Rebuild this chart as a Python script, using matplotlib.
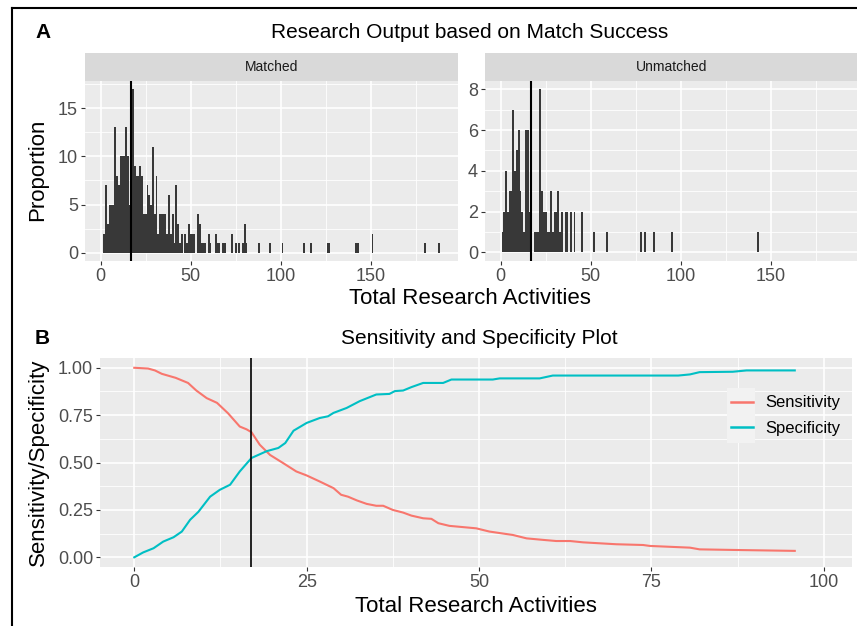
import matplotlib
matplotlib.use("Agg")
import matplotlib.pyplot as plt
from matplotlib.lines import Line2D
from matplotlib.patches import Rectangle
from matplotlib.ticker import FixedLocator

plt.rcParams['font.family'] = ['Liberation Sans', 'DejaVu Sans']

# histogram counts per total research activities
matched_x = [2, 3, 4, 5, 6, 7, 8, 9, 10, 11, 12, 13, 14, 15, 16, 17, 18, 19, 20,
             21, 22, 23, 24, 25, 26, 27, 28, 29, 30, 31, 32, 33, 34, 35, 36, 37,
             38, 39, 40, 41, 42, 43, 44, 45, 47, 48, 49, 50, 51, 52, 54, 55, 56,
             57, 58, 60, 61, 64, 65, 66, 68, 69, 73, 75, 77, 79, 80, 81, 88, 94,
             101, 113, 117, 126, 127, 142, 143, 151, 180, 188]
matched_n = [2, 7, 3, 5, 5, 5, 13, 8, 7, 10, 10, 10, 13, 10, 5, 11, 17, 9, 8,
             8, 9, 8, 4, 4, 7, 6, 5, 11, 4, 8, 2, 4, 4, 4, 4, 2,
             6, 2, 4, 1, 7, 3, 1, 2, 2, 1, 3, 2, 2, 2, 4, 3, 1,
             1, 1, 2, 1, 2, 1, 1, 1, 1, 2, 1, 1, 1, 3, 1, 1, 1,
             1, 1, 1, 1, 1, 1, 1, 2, 1, 1]
unmatched_x = [1, 2, 3, 4, 5, 6, 7, 8, 9, 10, 11, 12, 13, 14, 15, 16, 17, 19, 20,
               21, 22, 23, 24, 25, 26, 27, 28, 29, 30, 31, 32, 33, 34, 36, 37, 39,
               41, 45, 52, 59, 78, 80, 85, 95, 143]
unmatched_n = [1, 2, 4, 2, 3, 3, 7, 4, 5, 6, 3, 2, 1, 6, 6, 2, 2, 1, 1,
               1, 8, 3, 2, 2, 1, 1, 3, 1, 2, 2, 3, 1, 2, 2, 2, 2,
               2, 2, 1, 1, 1, 1, 1, 1, 1]
cutoff = 17

# sensitivity / specificity curves
sens_x = [0, 2, 3, 4, 6, 7.8, 9, 10.5, 12, 13.6, 15.3, 16.3, 17, 18.2, 19.7, 21.6,
          23.5, 25, 26.9, 28.9, 30, 31, 32.3, 33.7, 35.1, 36.1, 37.5, 39, 40.2,
          41.9, 43.1, 44.1, 45.7, 49.6, 51.5, 54.9, 56.9, 59.3, 61.2, 63.2, 65.1,
          69.9, 73.8, 74.8, 80.6, 82, 86.8, 95.8]
sens_y = [1.0, 0.996, 0.986, 0.968, 0.947, 0.92, 0.88, 0.84, 0.815, 0.76, 0.69,
          0.675, 0.66, 0.594, 0.54, 0.497, 0.453, 0.432, 0.40, 0.365, 0.33, 0.32,
          0.30, 0.282, 0.272, 0.272, 0.25, 0.236, 0.22, 0.206, 0.203, 0.18, 0.166,
          0.153, 0.136, 0.118, 0.10, 0.092, 0.086, 0.086, 0.079, 0.069, 0.065,
          0.06, 0.051, 0.042, 0.039, 0.034]
spec_x = [0, 1.3, 2.8, 4.2, 5.7, 6.9, 8.1, 9.3, 11, 12.4, 13.9, 15.3, 17, 19.2,
          20.9, 21.9, 23.1, 25, 26.9, 28.1, 28.9, 30.8, 32.7, 35.1, 37, 37.8, 39,
          40.2, 41.9, 44.8, 46, 52, 53, 58.8, 60.7, 78.9, 80.6, 82, 86.8, 88.8, 95.8]
spec_y = [0.0, 0.026, 0.048, 0.083, 0.106, 0.136, 0.198, 0.24, 0.32, 0.356, 0.383,
          0.453, 0.524, 0.56, 0.577, 0.603, 0.668, 0.709, 0.735, 0.744, 0.762,
          0.788, 0.824, 0.859, 0.862, 0.877, 0.88, 0.898, 0.92, 0.92, 0.938,
          0.938, 0.944, 0.944, 0.959, 0.959, 0.965, 0.977, 0.979, 0.986, 0.986]

W, H = 857, 626
PANEL = '#EBEBEB'
STRIP = '#D9D9D9'
BAR = '#383838'
RED = '#F8766D'
CYAN = '#00BFC4'


def fx(px):
    return px / W


def fy(py):
    return 1 - py / H


def gg_style(ax, major_x, major_y, minor_x, minor_y):
    ax.set_facecolor(PANEL)
    for s in ax.spines.values():
        s.set_visible(False)
    ax.xaxis.set_major_locator(FixedLocator(major_x))
    ax.yaxis.set_major_locator(FixedLocator(major_y))
    ax.xaxis.set_minor_locator(FixedLocator(minor_x))
    ax.yaxis.set_minor_locator(FixedLocator(minor_y))
    ax.grid(which='major', color='white', lw=1.2)
    ax.grid(which='minor', color='white', lw=0.6)
    ax.set_axisbelow(True)
    ax.tick_params(which='major', length=3, width=0.8, color='#333333',
                   labelcolor='#4D4D4D', labelsize=13, pad=2)
    ax.tick_params(which='minor', length=0)


fig = plt.figure(figsize=(W / 100, H / 100), dpi=100)

# panel A: histograms
ax1 = fig.add_axes([fx(85), fy(261), fx(373), 180.3 / H])
ax2 = fig.add_axes([fx(485), fy(261), fx(373), 180.3 / H])
for ax, xs, ns, yl, yt, ym in [
        (ax1, matched_x, matched_n, (-0.85, 17.85), [0, 5, 10, 15], [2.5, 7.5, 12.5, 17.5]),
        (ax2, unmatched_x, unmatched_n, (-0.42, 8.42), [0, 2, 4, 6, 8], [1, 3, 5, 7])]:
    ax.bar(xs, ns, width=0.95, color=BAR, linewidth=0)
    ax.axvline(cutoff, color='black', lw=1.5)
    ax.set_xlim(-8.7, 198.5)
    ax.set_ylim(*yl)
    gg_style(ax, [0, 50, 100, 150], yt, [25, 75, 125, 175], ym)

for ax, label in [(ax1, 'Matched'), (ax2, 'Unmatched')]:
    pos = ax.get_position()
    sax = fig.add_axes([pos.x0, fy(80.7), pos.width, 27.4 / H])
    sax.set_facecolor(STRIP)
    sax.set_xticks([])
    sax.set_yticks([])
    for s in sax.spines.values():
        s.set_visible(False)
    sax.text(0.5, 0.5, label, ha='center', va='center', fontsize=10,
             color='#1A1A1A', transform=sax.transAxes)

fig.text(fx(35), fy(33), 'A', fontsize=15, fontweight='bold', ha='left', va='center')
fig.text(fx(470), fy(33), 'Research Output based on Match Success', fontsize=15,
         ha='center', va='center')
fig.text(fx(470), fy(299), 'Total Research Activities', fontsize=16,
         ha='center', va='center')
fig.text(fx(38), fy(170), 'Proportion', fontsize=16, rotation=90,
         ha='center', va='center')

# panel B: sensitivity / specificity
ax3 = fig.add_axes([fx(100), fy(566.8), fx(752), 208.5 / H])
ax3.plot(sens_x, sens_y, color=RED, lw=1.5, label='Sensitivity')
ax3.plot(spec_x, spec_y, color=CYAN, lw=1.5, label='Specificity')
ax3.axvline(cutoff, color='black', lw=1.2)
ax3.set_xlim(-4.97, 104.1)
ax3.set_ylim(-0.05, 1.05)
gg_style(ax3, [0, 25, 50, 75, 100], [0, 0.25, 0.5, 0.75, 1.0],
         [12.5, 37.5, 62.5, 87.5], [0.125, 0.375, 0.625, 0.875])
ax3.set_yticklabels(['0.00', '0.25', '0.50', '0.75', '1.00'])

# grey95 legend key boxes, as ggplot draws them
for top in (388, 415.5):
    ax3.add_patch(Rectangle((fx(727), fy(top + 27.5)), fx(28), 27.5 / H,
                            transform=fig.transFigure, facecolor='#F2F2F2',
                            edgecolor='none', zorder=4))
leg = ax3.legend(loc='center left', bbox_to_anchor=(fx(731), fy(415.5)),
                 bbox_transform=fig.transFigure, frameon=False,
                 fontsize=12, handlelength=1.3, handletextpad=0.75,
                 labelspacing=0.62, borderpad=0, borderaxespad=0)
for h in leg.legend_handles:
    h.set_linewidth(1.8)

fig.text(fx(35), fy(338), 'B', fontsize=15, fontweight='bold', ha='left', va='center')
fig.text(fx(479), fy(338), 'Sensitivity and Specificity Plot', fontsize=15,
         ha='center', va='center')
fig.text(fx(476), fy(606), 'Total Research Activities', fontsize=16,
         ha='center', va='center')
fig.text(fx(38), fy(462), 'Sensitivity/Specificity', fontsize=16, rotation=90,
         ha='center', va='center')

# outer frame (left and top edges visible in the crop)
fig.add_artist(Line2D([fx(12), fx(12)], [0, fy(8)], color='black', lw=1.5))
fig.add_artist(Line2D([fx(12), 1], [fy(8), fy(8)], color='black', lw=1.5))

fig.savefig('out.png', dpi=100)
